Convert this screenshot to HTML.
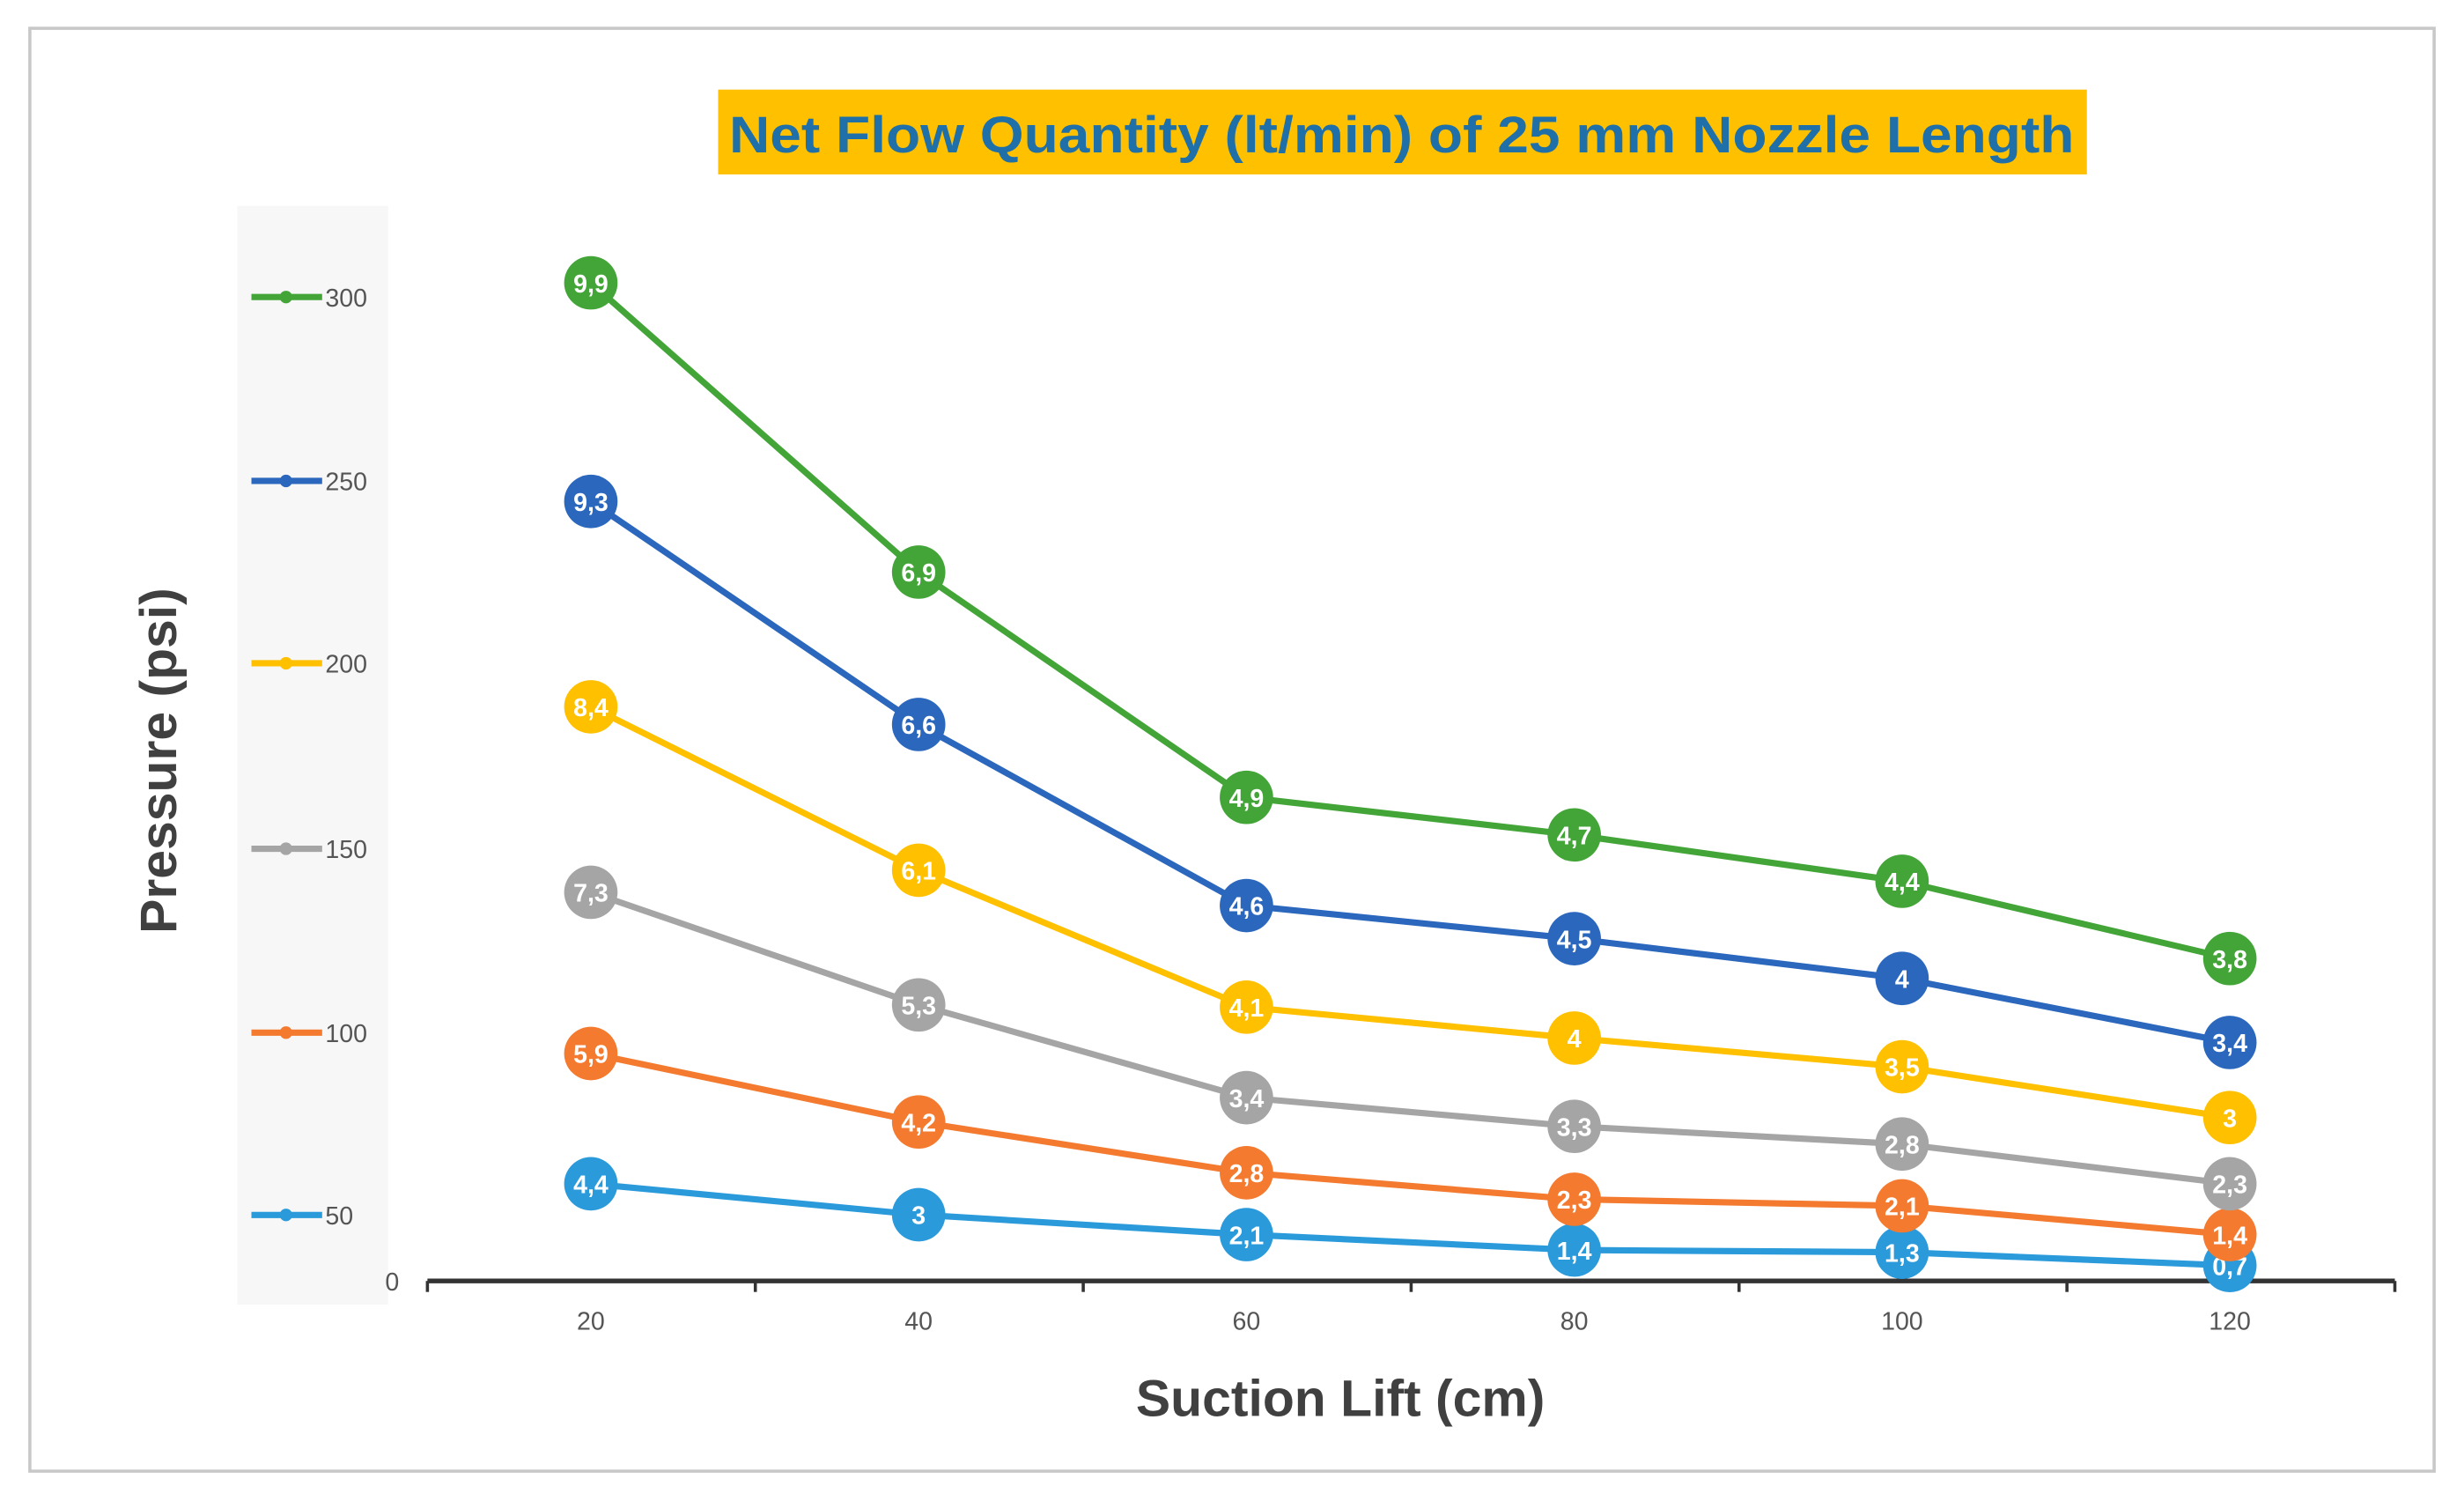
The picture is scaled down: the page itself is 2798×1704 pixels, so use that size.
<!DOCTYPE html>
<html><head><meta charset="utf-8"><style>
html,body{margin:0;padding:0;background:#fff;}
svg{display:block;}
text{font-family:"Liberation Sans",sans-serif;}
</style></head>
<body>
<svg id="chart" width="2798" height="1704" viewBox="0 0 1568 955" preserveAspectRatio="none" xmlns="http://www.w3.org/2000/svg">
  <rect x="19" y="18" width="1530" height="918" fill="#fff" stroke="#c8c8c8" stroke-width="2"/>
  <rect x="457" y="57" width="871" height="54" fill="#FFC000"/>
  <text x="892" y="97" text-anchor="middle" font-size="33" font-weight="bold" fill="#1F6FA8" textLength="856" lengthAdjust="spacingAndGlyphs">Net Flow Quantity (lt/min) of 25 mm Nozzle Length</text>
  <rect x="151" y="131" width="96" height="699" fill="#f7f7f7"/>
  <g id="legend"></g>
  <text x="254" y="821" text-anchor="end" font-size="16" fill="#555">0</text>
  <line x1="272" y1="815" x2="1524" y2="815" stroke="#333" stroke-width="3"/>
  <g id="xticks"></g>
  <g id="series"></g>
  <text x="853" y="901" text-anchor="middle" font-size="33" font-weight="bold" fill="#404040">Suction Lift (cm)</text>
  <text x="0" y="0" transform="translate(112,484) rotate(-90)" text-anchor="middle" font-size="33" font-weight="bold" fill="#404040">Pressure (psi)</text>
</svg>
<script>
const categories = [20, 40, 60, 80, 100, 120];
const seriesNames = ["50", "100", "150", "200", "250", "300"];
const s50 = [4.4, 3, 2.1, 1.4, 1.3, 0.7];
const s100 = [5.9, 4.2, 2.8, 2.3, 2.1, 1.4];
const s150 = [7.3, 5.3, 3.4, 3.3, 2.8, 2.3];
const s200 = [8.4, 6.1, 4.1, 4, 3.5, 3];
const s250 = [9.3, 6.6, 4.6, 4.5, 4, 3.4];
const s300 = [9.9, 6.9, 4.9, 4.7, 4.4, 3.8];
const allSeries = [s50, s100, s150, s200, s250, s300];
const colors = ["#2A9ADB", "#F37A2E", "#A5A5A5", "#FFC000", "#2A67BD", "#43A538"];

const NS = "http://www.w3.org/2000/svg";
function xScale(v){ return 376 + (v - 20) * 10.43; }
function yScale(v){ return 815 - v * 14.05; }
function mk(tag, attrs, parent){
  const e = document.createElementNS(NS, tag);
  for (const k in attrs) e.setAttribute(k, attrs[k]);
  parent.appendChild(e);
  return e;
}

// x ticks
const xt = document.getElementById("xticks");
for (let i = 0; i <= 6; i++) {
  const x = 272 + i * (1524 - 272) / 6;
  const t = mk("line", {x1: x, y1: 815, x2: x, y2: 822, stroke: "#333", "stroke-width": 2}, xt);
  
  
}
categories.forEach(c => {
  const t = mk("text", {x: xScale(c), y: 846, "text-anchor": "middle", "font-size": 16, fill: "#555"}, xt);
  t.textContent = c;
  
  
});

// legend
const lg = document.getElementById("legend");
const legendY = [773, 657, 540, 422, 306, 189];
seriesNames.forEach((n, i) => {
  const g = mk("g", {}, lg);
  
  
  mk("line", {x1: 160, y1: legendY[i], x2: 205, y2: legendY[i], stroke: colors[i], "stroke-width": 4}, g);
  mk("circle", {cx: 182, cy: legendY[i], r: 4, fill: colors[i]}, g);
  const t = mk("text", {x: 207, y: legendY[i] + 6, "font-size": 16, fill: "#555"}, g);
  t.textContent = n;
});

// stacked series
const sg = document.getElementById("series");
const cum = categories.map(() => 0);
const stackTops = allSeries.map(s => s.map((v, j) => (cum[j] += v)));
allSeries.forEach((s, i) => {
  const g = mk("g", {}, sg);
  
  
  const pts = categories.map((c, j) => xScale(c) + "," + yScale(stackTops[i][j])).join(" ");
  const pl = mk("polyline", {points: pts, fill: "none", stroke: colors[i], "stroke-width": 4, "stroke-linejoin": "round"}, g);
  
  
});
allSeries.forEach((s, i) => {
  const g = sg.children[i];
  categories.forEach((c, j) => {
    const cx = xScale(c), cy = yScale(stackTops[i][j]);
    const m = mk("circle", {cx: cx, cy: cy, r: 17, fill: colors[i]}, g);
    
    
    const t = mk("text", {x: cx, y: cy + 6, "text-anchor": "middle", "font-size": 16, "font-weight": "bold", fill: "#fff"}, g);
    t.textContent = String(s[j]).replace(".", ",");
    
    
  });
});
</script>
</body></html>
